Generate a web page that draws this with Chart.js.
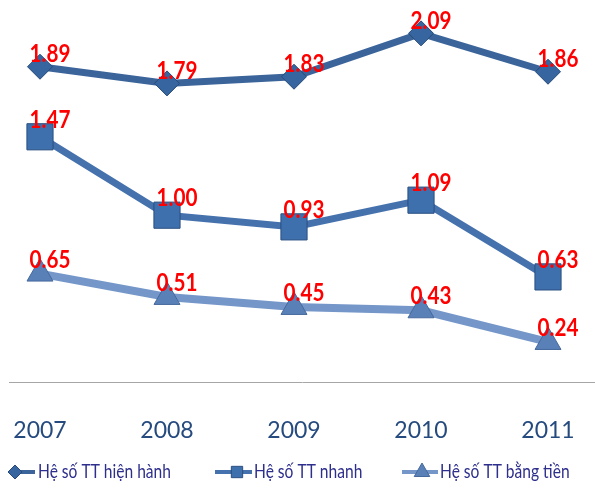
<!DOCTYPE html>
<html>
<head>
<meta charset="utf-8">
<script src="https://cdn.jsdelivr.net/npm/chart.js@4.4.0/dist/chart.umd.min.js"></script>
<style>
  html, body { margin: 0; padding: 0; background: #ffffff; }
  canvas { display: block; }
</style>
</head>
<body>
<canvas id="chart" width="595" height="488"></canvas>
<script>
// Chart data
const years = [2007, 2008, 2009, 2010, 2011];
const seriesNames = ["Hệ số TT hiện hành", "Hệ số TT nhanh", "Hệ số TT bằng tiền"];
const currentRatio = [1.89, 1.79, 1.83, 2.09, 1.86];
const quickRatio = [1.47, 1.00, 0.93, 1.09, 0.63];
const cashRatio = [0.65, 0.51, 0.45, 0.43, 0.24];

const toPoints = (vals) => vals.map((v, i) => ({ x: years[i], y: v }));

// Red value labels above each marker
const valueLabels = {
	id: "valueLabels",
	afterDatasetsDraw(chart) {
		const ctx = chart.ctx;
		ctx.save();
		ctx.font = "bold 23px Lato, 'Open Sans', sans-serif";
		ctx.fillStyle = "#ff0000";
		ctx.textAlign = "center";
		ctx.textBaseline = "middle";
		const dy = [-13, -17, -14];
		chart.data.datasets.forEach((ds, di) => {
			chart.getDatasetMeta(di).data.forEach((pt, i) => {
				ctx.save();
				ctx.translate(pt.x + 10, pt.y + dy[di]);
				ctx.scale(0.9, 1.1);
				ctx.fillText(ds.data[i].y.toFixed(2), 0, 0);
				ctx.restore();
			});
		});
		ctx.restore();
	}
};

// Legend at the bottom: line with marker, then name
const bottomLegend = {
	id: "bottomLegend",
	afterDraw(chart) {
		const ctx = chart.ctx;
		const y = 472;
		const items = [
			{ x0: 9, x1: 35, mx: 15, r: 7, tx: 38 },
			{ x0: 215, x1: 252, mx: 237, r: 8, tx: 254 },
			{ x0: 402, x1: 438, mx: 422, r: 9, tx: 440 }
		];
		ctx.save();
		ctx.font = "19px Lato, 'Open Sans', sans-serif";
		ctx.textBaseline = "middle";
		ctx.textAlign = "left";
		chart.data.datasets.forEach((ds, i) => {
			const it = items[i];
			ctx.strokeStyle = ds.borderColor;
			ctx.lineWidth = 4;
			ctx.beginPath();
			ctx.moveTo(it.x0, y);
			ctx.lineTo(it.x1, y);
			ctx.stroke();
			ctx.fillStyle = ds.pointBackgroundColor;
			ctx.strokeStyle = ds.pointBorderColor;
			ctx.lineWidth = 1;
			Chart.helpers.drawPoint(ctx, { pointStyle: ds.pointStyle, radius: it.r, rotation: 0, borderWidth: 1 }, it.mx, y);
			ctx.save();
			ctx.translate(it.tx, y);
			ctx.scale(0.82, 1);
			ctx.fillStyle = "#2e2f8c";
			ctx.fillText(ds.label, 0, 0);
			ctx.restore();
		});
		ctx.restore();
	}
};

new Chart(document.getElementById("chart").getContext("2d"), {
	type: "line",
	data: {
		datasets: [
			{
				label: seriesNames[0],
				data: toPoints(currentRatio),
				borderColor: "#3b649b",
				borderWidth: 7,
				pointStyle: "rectRot",
				pointRadius: 12.5,
				pointBackgroundColor: "#36659f",
				pointBorderColor: "#274a78",
				pointBorderWidth: 1
			},
			{
				label: seriesNames[1],
				data: toPoints(quickRatio),
				borderColor: "#4571ad",
				borderWidth: 7,
				pointStyle: "rect",
				pointRadius: 18.5,
				pointBackgroundColor: "#3f70ae",
				pointBorderColor: "#2a4f80",
				pointBorderWidth: 1
			},
			{
				label: seriesNames[2],
				data: toPoints(cashRatio),
				borderColor: "#7496c9",
				borderWidth: 8,
				pointStyle: "triangle",
				pointRadius: 15,
				pointBackgroundColor: "#5a80b8",
				pointBorderColor: "#46699c",
				pointBorderWidth: 1
			}
		]
	},
	options: {
		responsive: false,
		animation: false,
		layout: { autoPadding: false, padding: { left: 9, right: 0, top: 0, bottom: 44 } },
		plugins: {
			legend: { display: false },
			tooltip: { enabled: false }
		},
		scales: {
			x: {
				type: "linear",
				min: 2006.756,
				max: 2011.37,
				afterFit: (scale) => {
					scale.height = 62;
					scale.paddingLeft = 0;
					scale.paddingRight = 0;
				},
				afterBuildTicks: (scale) => { scale.ticks = years.map(v => ({ value: v })); },
				grid: { display: false, drawTicks: false },
				border: { display: true, color: "#a6a6a6", width: 1 },
				ticks: {
					padding: 35,
					color: "#254a7e",
					font: { family: "Lato, 'Open Sans', sans-serif", size: 23 },
					callback: (v) => String(v)
				}
			},
			y: {
				display: false,
				min: 0,
				max: 2.29
			}
		}
	},
	plugins: [valueLabels, bottomLegend]
});
</script>
</body>
</html>
